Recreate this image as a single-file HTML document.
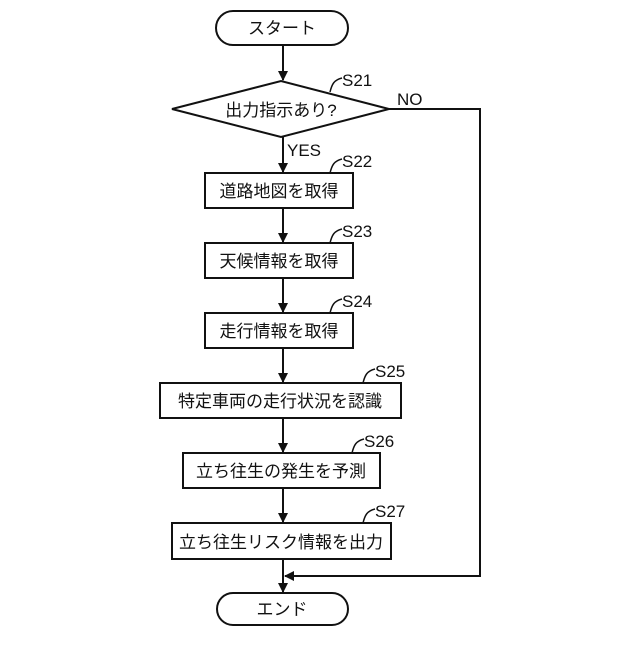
<!DOCTYPE html>
<html><head><meta charset="utf-8"><style>
html,body{margin:0;padding:0;background:#fff;}
text{font-family:"Liberation Sans","Noto Sans CJK JP",sans-serif;fill:#111;}
</style></head><body>
<svg width="640" height="640" viewBox="0 0 640 640" xmlns="http://www.w3.org/2000/svg">
<defs><marker id="a" markerWidth="10" markerHeight="10" refX="9" refY="5" orient="auto" markerUnits="userSpaceOnUse"><path d="M0,0 L10,5 L0,10 z" fill="#111"/></marker></defs>
<g stroke="#111" stroke-width="2" fill="none">
<rect x="216" y="11" width="132" height="34" rx="17" fill="#fff"/>
<polygon points="172,109 281,81 389,109 281,137" fill="#fff"/>
<rect x="205" y="173" width="148" height="35" fill="#fff"/>
<rect x="205" y="243" width="148" height="35" fill="#fff"/>
<rect x="205" y="313" width="148" height="35" fill="#fff"/>
<rect x="160" y="383" width="241" height="35" fill="#fff"/>
<rect x="183" y="453" width="197" height="35" fill="#fff"/>
<rect x="172" y="523" width="219" height="36" fill="#fff"/>
<rect x="217" y="593" width="131" height="32" rx="16" fill="#fff"/>
<line x1="283" y1="45" x2="283" y2="80" marker-end="url(#a)"/>
<line x1="283" y1="137" x2="283" y2="172" marker-end="url(#a)"/>
<line x1="283" y1="208" x2="283" y2="242" marker-end="url(#a)"/>
<line x1="283" y1="278" x2="283" y2="312" marker-end="url(#a)"/>
<line x1="283" y1="348" x2="283" y2="382" marker-end="url(#a)"/>
<line x1="283" y1="418" x2="283" y2="452" marker-end="url(#a)"/>
<line x1="283" y1="488" x2="283" y2="522" marker-end="url(#a)"/>
<line x1="283" y1="559" x2="283" y2="592" marker-end="url(#a)"/>
<polyline points="389,109 480,109 480,576 285,576" marker-end="url(#a)"/>
<path d="M330,92 C332,84 334,80 342,78" stroke-width="1.5"/>
<path d="M330,173 C332,165 334,161 342,159" stroke-width="1.5"/>
<path d="M330,243 C332,235 334,231 342,229" stroke-width="1.5"/>
<path d="M330,313 C332,305 334,301 342,299" stroke-width="1.5"/>
<path d="M363,383 C365,375 367,371 375,369" stroke-width="1.5"/>
<path d="M352,453 C354,445 356,441 364,439" stroke-width="1.5"/>
<path d="M363,523 C365,515 367,511 375,509" stroke-width="1.5"/>
</g>
<g font-size="17">
<text x="282" y="34" text-anchor="middle">スタート</text>
<text x="281" y="116" text-anchor="middle">出力指示あり?</text>
<text x="279" y="197" text-anchor="middle">道路地図を取得</text>
<text x="279" y="267" text-anchor="middle">天候情報を取得</text>
<text x="279" y="337" text-anchor="middle">走行情報を取得</text>
<text x="280" y="407" text-anchor="middle">特定車両の走行状況を認識</text>
<text x="281" y="477" text-anchor="middle">立ち往生の発生を予測</text>
<text x="281" y="548" text-anchor="middle">立ち往生リスク情報を出力</text>
<text x="282" y="615" text-anchor="middle">エンド</text>
</g>
<g font-size="17">
<text x="342" y="86">S21</text>
<text x="342" y="167">S22</text>
<text x="342" y="237">S23</text>
<text x="342" y="307">S24</text>
<text x="375" y="377">S25</text>
<text x="364" y="447">S26</text>
<text x="375" y="517">S27</text>
<text x="397" y="105">NO</text>
<text x="287" y="156">YES</text>
</g>
</svg>
</body></html>
